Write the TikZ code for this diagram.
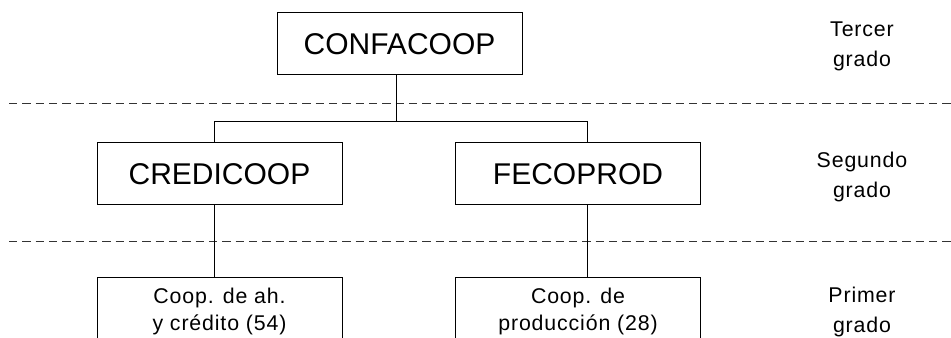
\documentclass[tikz,border=0pt]{standalone}
\usepackage{fontspec}
\setmainfont{Liberation Sans}
\newfontfamily\spacedsans[LetterSpace=4]{Liberation Sans}

\tikzset{every picture/.style={line width=0.75pt}}
\tikzset{
  bigbox/.style={draw, minimum width=183.75pt, minimum height=46.5pt, inner sep=0pt,
    font=\fontsize{22.5}{27}\selectfont},
  lowbox/.style={draw, anchor=north, minimum width=183.75pt, inner xsep=0pt, inner ysep=7.6pt,
    align=center, font=\spacedsans\fontsize{16}{20.25}\selectfont},
  gradelabel/.style={align=center, inner sep=0pt, font=\spacedsans\fontsize{16}{22.5}\selectfont},
  levelline/.style={dash pattern=on 6.2pt off 3.8pt, line width=0.6pt, black!80},
}

\begin{document}
\begin{tikzpicture}[x=0.75pt,y=0.75pt,yscale=-1,xscale=1]
\useasboundingbox (0,0) rectangle (951,338);
\clip (0,0) rectangle (951,338);

%Dashed level lines
\draw [levelline] (9,103) -- (951,103);
\draw [levelline] (9,241) -- (951,241);

%Boxes
\node [bigbox] (confacoop) at (399.5,44) {CONFACOOP};
\node [bigbox] (credicoop) at (219.5,174) {CREDICOOP};
\node [bigbox] (fecoprod) at (578,174) {FECOPROD};
\node [lowbox] (ahcredito) at (219.5,277) {Coop. de ah.\\y crédito (54)};
\node [lowbox] (produccion) at (578,277) {Coop. de\\producción (28)};

%Branch points
\coordinate (brtop) at (396,122);
\coordinate (brleft) at (214,122);
\coordinate (brright) at (587,122);

%Connectors
\draw (confacoop.south -| brtop) -- (brtop);
\draw (credicoop.north -| brleft) |- (brright) -- (fecoprod.north -| brright);
\draw (credicoop.south -| brleft) -- (ahcredito.north -| brleft);
\draw (fecoprod.south -| brright) -- (produccion.north -| brright);

% Text Node
\node [gradelabel] (tercer) at (862,46) {Tercer\\grado};
% Text Node
\node [gradelabel] (segundo) at (862,177) {Segundo\\grado};
% Text Node
\node [gradelabel] (primer) at (862,312) {Primer\\grado};

\end{tikzpicture}
\end{document}
